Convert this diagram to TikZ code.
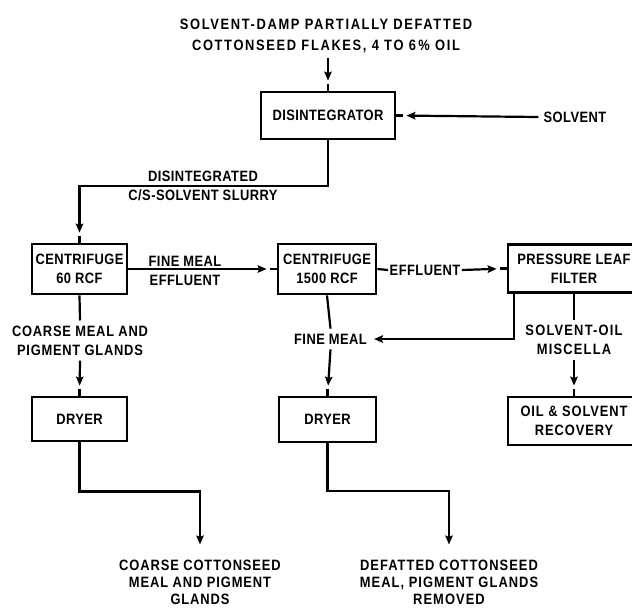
\documentclass[tikz,border=0pt]{standalone}
\usepackage{fontspec}
\setmainfont[FakeStretch=0.86, LetterSpace=3]{Liberation Sans}
\usetikzlibrary{arrows.meta}
\tikzset{
  unit/.style={
    draw,
    line width=2.8pt,
    inner sep=2pt,
    align=center
  },
  lbl/.style={inner sep=5pt, align=center},
  spaced/.style={font=\fontsize{15}{19}\selectfont\bfseries\addfontfeature{LetterSpace=#1}},
  product/.style={lbl, font=\fontsize{15}{17}\selectfont\bfseries\addfontfeature{LetterSpace=#1}},
  flow/.style={line width=2.2pt},
  feed/.style={flow, -{Stealth[length=9pt,width=7.5pt,inset=1.5pt]}},
  tobox/.style={feed, shorten >=10pt}
}

\begin{document}
\begin{tikzpicture}[x=1pt, y=-1pt, font=\fontsize{15}{19}\selectfont\bfseries]
  \useasboundingbox (0,0) rectangle (632,608);
  % process units
  \node[unit, minimum width=134pt, minimum height=47pt] (dis) at (328,115.5) {DISINTEGRATOR};
  \node[unit, minimum width=95pt, minimum height=50pt] (cfa) at (79.5,269) {CENTRIFUGE\\60 RCF};
  \node[unit, minimum width=98pt, minimum height=50pt] (cfb) at (327,269) {CENTRIFUGE\\1500 RCF};
  \node[unit, minimum width=132pt, minimum height=48pt] (pf) at (574,268.5) {PRESSURE LEAF\\FILTER};
  \node[unit, minimum width=95pt, minimum height=44pt] (dra) at (79.5,419) {DRYER};
  \node[unit, minimum width=97pt, minimum height=45pt] (drb) at (327.5,419.5) {DRYER};
  \node[unit, minimum width=132pt, minimum height=48pt, spaced=6] (rec) at (574,421) {OIL \& SOLVENT\\RECOVERY};
  % stream labels
  \node[lbl, spaced=11] (feed) at (326,35.5) {SOLVENT-DAMP PARTIALLY DEFATTED\\[2pt]COTTONSEED FLAKES, 4 TO 6\,\% OIL};
  \node[lbl] (solv) at (575,117) {SOLVENT};
  \node[lbl, inner sep=1pt] (slurry) at (203,186) {DISINTEGRATED\\C/S-SOLVENT SLURRY};
  \node[lbl, inner sep=1pt] (fme) at (185,271) {FINE MEAL\\EFFLUENT};
  \node[lbl, inner sep=1.5pt] (eff) at (425,270) {EFFLUENT};
  \node[lbl, spaced=5] (coarse) at (80,340.5) {COARSE MEAL AND\\PIGMENT GLANDS};
  \node[lbl] (fm) at (330.5,339) {FINE MEAL};
  \node[lbl, spaced=8] (misc) at (574,340) {SOLVENT-OIL\\MISCELLA};
  \node[product=6] (out1) at (200,582) {COARSE COTTONSEED\\MEAL AND PIGMENT\\GLANDS};
  \node[product=7] (out2) at (449,582) {DEFATTED COTTONSEED\\MEAL, PIGMENT GLANDS\\REMOVED};
  % streams
  \draw[tobox] (dis.north |- feed.south) -- (dis.north);
  \draw[tobox] (solv.west) -- (dis.east);
  \draw[tobox] (dis.south) |- (slurry.center) -| (cfa.north);
  \draw[tobox] (cfa.east) -- (cfb.west);
  \draw[flow] (cfb.east) -- (eff.west);
  \draw[tobox] (eff.east) -- (pf.west);
  \draw[flow] (cfa.south) -- (coarse.north);
  \draw[tobox] (coarse.south) -- (dra.north);
  \draw[flow] (cfb.south) -- (fm.north);
  \draw[tobox] (fm.south) -- (drb.north);
  \draw[feed, shorten >=2pt] ([xshift=7pt]pf.south west) |- (fm.east);
  \draw[flow] (pf.south) -- (misc.north);
  \draw[tobox] (misc.south) -- (rec.north);
  \draw[tobox] (dra.south) -- ++(0,49) -| (out1.north);
  \draw[tobox] (drb.south) -- ++(0,47.5) -| (out2.north);
  % short stubs between arrow heads and units
  \foreach \n/\a/\dx/\dy in {dis/north/0/-7, dis/east/7/0, cfa/north/0/-7, cfb/west/-7/0,
                             pf/west/-7/0, dra/north/0/-7, drb/north/0/-7, rec/north/0/-7}
    \draw[flow] (\n.\a) -- ++(\dx,\dy);
\end{tikzpicture}
\end{document}
